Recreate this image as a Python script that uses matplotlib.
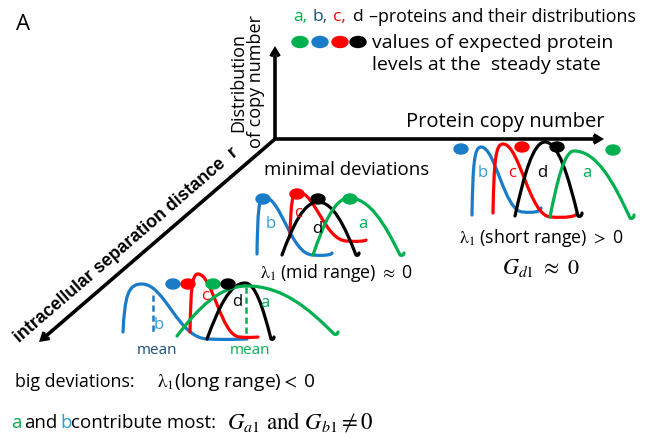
import matplotlib
matplotlib.use("Agg")
import matplotlib.pyplot as plt
from matplotlib.path import Path
from matplotlib.patches import PathPatch, Ellipse, FancyArrowPatch

plt.rcParams['font.family'] = ['Open Sans', 'DejaVu Sans']
plt.rcParams['mathtext.fontset'] = 'stix'

GREEN = '#00b050'
BLUE = '#1a7cc9'
LBLUE = '#2e9bd6'
DBLUE = '#1f4e79'
RED = '#ff0000'
BLACK = '#000000'

# ---- data (diagram coordinates, pixel-like units, y grows downward) ----
proteins = ['a', 'b', 'c', 'd']
prot_colors = [GREEN, BLUE, RED, BLACK]
panels = ['short range', 'mid range', 'long range']

# each curve: start, peak, foot, tail end  (x, y)
curve_keys = {
    'short range': {
        'b': [(472, 216), (481, 148), (523, 213), (541, 209)],
        'c': [(493, 214), (503, 145), (551, 218), (577, 214)],
        'd': [(515, 217), (545, 143), (578, 217), (582, 214)],
        'a': [(550, 218), (574, 152), (630, 219), (634, 216)],
    },
    'mid range': {
        'b': [(257, 255), (264, 198), (313, 256), (332, 254)],
        'c': [(290, 238), (298, 193), (347, 242), (366, 241)],
        'd': [(282, 256), (318, 203), (356, 256), (359, 254)],
        'a': [(313, 256), (349, 199), (400, 256), (404, 254)],
    },
    'long range': {
        'b': [(123, 333), (142, 285), (208, 340), (247, 340)],
        'c': [(190, 333), (198, 275), (240, 338), (258, 338)],
        'd': [(207, 340), (245, 284), (271, 340), (274, 338)],
        'a': [(177, 337), (247, 287), (334, 335), (338, 333)],
    },
}
curve_kind = {'a': 'bell', 'b': 'skew', 'c': 'skew', 'd': 'bell'}

# expected-level dots (x, y)
dots = {
    'short range': {'b': (461, 150), 'c': (522, 148), 'd': (557, 148), 'a': (613, 151)},
    'mid range': {'b': (263, 200), 'c': (297, 195), 'd': (318, 200), 'a': (350, 200)},
    'long range': {'b': (173, 285), 'c': (188, 285), 'a': (213, 285), 'd': (228, 285)},
}
# curve letters (x, y)
letters = {
    'short range': {'b': (483, 173), 'c': (512, 173), 'd': (542, 173), 'a': (587, 173)},
    'mid range': {'b': (271, 224), 'c': (298, 213), 'd': (317, 229), 'a': (363, 224)},
    'long range': {'b': (159, 325), 'c': (205, 296), 'd': (237, 302), 'a': (265, 303)},
}
means = {'b': (153, 296, 336), 'a': (246, 288, 340)}   # x, y_top, y_bottom

origin = (275, 140)
axis_tips = [(275, 47), (604, 140), (39, 343)]

fig = plt.figure(figsize=(6.55, 4.39), dpi=100)
ax = fig.add_axes([0, 0, 1, 1])
ax.set_xlim(0, 655)
ax.set_ylim(439, 0)
ax.axis('off')

# axes arrows
for tip in axis_tips:
    ax.add_patch(FancyArrowPatch(origin, tip, arrowstyle='->,head_length=5,head_width=3',
                                 lw=2.6, color='black', shrinkA=0, shrinkB=0,
                                 joinstyle='miter', capstyle='butt', mutation_scale=1))


def bump_path(keys, kind):
    (xs, ys), (xp, yp), (xf, yf), (xt, yt) = keys
    if kind == 'skew':
        r1 = [(xs + 0.1 * (xp - xs), ys + 0.75 * (yp - ys)), (xp - 0.75 * (xp - xs), yp)]
        r2 = [(xp + 0.35 * (xf - xp), yp), (xf - 0.45 * (xf - xp), yf)]
    else:
        r1 = [(xs + 0.3 * (xp - xs), ys + 0.55 * (yp - ys)), (xp - 0.4 * (xp - xs), yp)]
        r2 = [(xp + 0.4 * (xf - xp), yp), (xf - 0.3 * (xf - xp), yf + 0.55 * (yp - yf))]
    t = [(xf + 0.5 * (xt - xf), yf + 1), ((xt + xf) / 2 + 0.5 * (xt - xf), yf)]
    verts = [(xs, ys)] + r1 + [(xp, yp)] + r2 + [(xf, yf)] + t + [(xt, yt)]
    codes = [Path.MOVETO] + [Path.CURVE4] * 9
    return Path(verts, codes)


order_draw = ['b', 'c', 'd', 'a']
for pn in panels:
    for p in order_draw:
        col = prot_colors[proteins.index(p)]
        ax.add_patch(PathPatch(bump_path(curve_keys[pn][p], curve_kind[p]), fc='none',
                               ec=col, lw=2.3, capstyle='round', joinstyle='round', zorder=3))
    for p in proteins:
        col = prot_colors[proteins.index(p)]
        dx, dy = dots[pn][p]
        ax.add_patch(Ellipse((dx, dy), 14, 10, color=col, zorder=4))
        lx, ly = letters[pn][p]
        lcol = {'a': GREEN, 'b': LBLUE, 'c': RED, 'd': BLACK}[p]
        ax.text(lx, ly, p, color=lcol, fontsize=12, ha='center', va='center', zorder=5)

# mean dashed lines
for p, (mx, y0, y1) in means.items():
    col = BLUE if p == 'b' else GREEN
    ax.plot([mx, mx], [y0, y1], ls=(0, (2.5, 1.5)), lw=1.8, color=col, zorder=2)
ax.text(157, 351, 'mean', color=DBLUE, fontsize=11, ha='center', va='center')
ax.text(250, 351, 'mean', color=GREEN, fontsize=11, ha='center', va='center')

# texts
ax.text(16, 24, 'A', fontsize=16, ha='left', va='center')
ax.text(247, 82, 'Distribution\nof copy number', rotation=90, fontsize=13,
        ha='center', va='center', linespacing=1.0)
ax.text(505, 122, 'Protein copy number', fontsize=14.5, ha='center', va='center')
ax.text(347, 170, 'minimal deviations', fontsize=13.5, ha='center', va='center')
ax.text(126, 245, 'intracellular separation distance  r', rotation=40.7,
        family=['Liberation Sans', 'DejaVu Sans'], weight='bold', fontsize=12.8,
        ha='center', va='center', rotation_mode='anchor')

# legend
legend_parts = [('a,', GREEN, 293), ('b,', DBLUE, 313), ('c,', RED, 333), ('d', BLACK, 353)]
for s, c, x in legend_parts:
    ax.text(x, 17, s, color=c, fontsize=12.5, ha='left', va='center')
ax.text(369, 17, '\u2013proteins and their distributions', fontsize=12.8, ha='left', va='center')
for c, x in zip([GREEN, BLUE, RED, BLACK], [300, 320, 340, 358]):
    ax.add_patch(Ellipse((x, 43), 16, 11, color=c))
ax.text(372, 43, 'values of expected protein', fontsize=14, ha='left', va='center')
ax.text(372, 65, 'levels at the  steady state', fontsize=14, ha='left', va='center')

LAM = r'$\mathrm{\lambda}_{\mathrm{1}}$'
# lambda / G annotations
ax.text(541, 238, LAM + r' (short range) $>$ 0', fontsize=12.8, ha='center', va='center')
ax.text(541, 268, r'$G_{d\mathrm{1}}\ \approx\ 0$', fontsize=16, ha='center', va='center')
ax.text(336, 273, LAM + r' (mid range) $\approx$ 0', fontsize=12.8, ha='center', va='center')

ax.text(15, 382, 'big deviations:', fontsize=12.9, ha='left', va='center')
ax.text(157, 382, LAM + r'(long range)$<$ 0', fontsize=13.8, ha='left', va='center')

ax.text(11, 423, 'a', color=GREEN, fontsize=13.5, ha='left', va='center')
ax.text(24, 423, 'and', fontsize=13.5, ha='left', va='center')
ax.text(60, 423, 'b', color=LBLUE, fontsize=13.5, ha='left', va='center')
ax.text(71, 423, 'contribute most:', fontsize=13.5, ha='left', va='center')
ax.text(227, 423, r'$G_{a\mathrm{1}}\ \mathrm{and}\ G_{b\mathrm{1}}\neq 0$', fontsize=16.5,
        ha='left', va='center')

fig.savefig('out.png', dpi=100)
